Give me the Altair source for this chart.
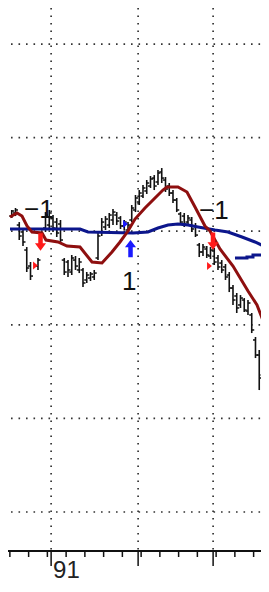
import altair as alt
import pandas as pd

# ---------------- data ----------------
# daily OHLC bars (day index, price units)
bar_day = [1, 2, 3, 4, 5, 6, 8, 10, 11, 12, 13, 14, 15, 16, 17, 18, 19, 20, 21, 22, 23,
           24, 25, 26, 27, 28, 29, 30, 31, 32, 33, 34, 35, 36, 37, 38, 39, 40, 41, 42, 43,
           44, 45, 46, 47, 48, 49, 50, 51, 52, 53, 54, 55, 56, 57, 58, 59, 60, 61, 62, 63,
           64, 65, 66, 67, 68, 69]
bar_high = [82.27, 82.48, 80.98, 80.34, 78.31, 76.71, 77.14, 82.05, 82.27, 81.73, 81.41, 81.2,
            77.14, 76.92, 77.46, 77.35, 77.14, 76.07, 75.64, 75.64, 75.86,
            79.81, 81.41, 81.62, 81.95, 82.37, 82.05, 81.62, 81.2, 80.98, 82.8, 83.87, 84.4,
            84.94, 85.47, 85.9, 86.0, 86.54, 86.75, 85.79, 85.15,
            84.4, 83.55, 82.05, 81.95, 81.73, 81.52, 80.88, 78.74, 78.63, 78.42, 78.31, 78.21,
            77.46, 76.92, 76.5, 75.64, 74.25, 73.4, 73.18, 72.86,
            72.65, 71.26, 68.7, 67.31, 66.24, 67.31]
bar_low = [81.41, 81.62, 79.06, 78.42, 75.64, 74.79, 75.86, 79.92, 80.13, 79.92, 79.38, 78.74,
           75.32, 75.11, 75.32, 75.86, 75.53, 74.04, 74.47, 74.68, 74.79,
           76.92, 79.49, 80.13, 80.34, 80.66, 80.66, 80.24, 80.13, 79.81, 80.98, 82.05, 82.8,
           83.55, 83.98, 84.62, 84.4, 84.94, 85.15, 84.19, 83.76,
           83.01, 82.05, 80.66, 80.45, 80.66, 79.92, 79.38, 77.24, 77.35, 77.14, 77.03, 76.39,
           75.86, 75.53, 74.79, 73.5, 72.12, 71.26, 71.8, 71.37,
           71.05, 69.12, 66.45, 63.03, 64.1, 65.92]
bar_open = [81.62, 81.95, 80.66, 79.92, 77.99, 76.28, 76.28, 80.34, 80.66, 81.41, 80.98, 80.77,
            76.92, 76.71, 75.64, 76.92, 75.86, 75.86, 74.79, 75.0, 75.11,
            77.14, 79.92, 80.45, 80.66, 81.2, 81.73, 81.41, 80.56, 80.13, 81.2, 82.27, 83.12,
            83.76, 84.3, 84.83, 85.68, 85.26, 86.33, 85.47, 84.83,
            84.08, 83.33, 81.84, 81.62, 80.98, 81.2, 80.56, 78.53, 77.78, 78.1, 77.35, 77.89,
            77.14, 76.6, 76.18, 75.32, 73.93, 73.08, 72.12, 72.65,
            71.47, 71.05, 68.38, 66.77, 64.64, 66.24]
bar_close = [82.16, 82.27, 79.49, 78.85, 76.07, 75.21, 76.92, 81.73, 81.95, 80.34, 79.81, 79.06,
             75.64, 75.86, 77.14, 76.28, 76.71, 74.47, 75.32, 75.43, 75.53,
             79.49, 80.98, 81.3, 81.73, 82.05, 81.09, 80.56, 80.98, 80.66, 82.48, 83.55, 84.08,
             84.62, 85.15, 85.58, 84.83, 86.22, 85.68, 84.51, 84.08,
             83.33, 82.27, 80.98, 80.77, 81.41, 80.24, 79.59, 77.78, 78.31, 77.46, 77.99, 76.71,
             76.18, 75.86, 75.11, 73.93, 72.65, 71.8, 72.86, 71.58,
             72.33, 69.45, 66.77, 64.32, 65.71, 66.99]

# dark red moving average
red_day = [0.53, 2.4, 3.73, 5.07, 6.4, 9.07, 10.13, 13.33, 15.73, 19.2, 22.4, 25.07, 27.73,
           29.87, 32.0, 33.87, 36.53, 39.2, 41.33, 42.4, 45.33, 47.73, 49.87, 52.53, 53.87,
           55.2, 56.53, 60.0, 64.0, 66.4, 69.07]
red_val = [81.52, 81.95, 81.62, 80.56, 79.92, 79.81, 79.06, 78.85, 78.42, 78.31, 76.71, 76.6,
           77.78, 78.85, 80.02, 81.3, 82.48, 83.55, 84.4, 84.72, 84.72, 84.19, 82.59, 80.56,
           80.02, 79.06, 78.1, 76.28, 73.61, 72.12, 69.34]

# navy moving average
navy_day = [0.53, 19.2, 21.33, 33.33, 37.33, 40.0, 42.67, 45.33, 48.0, 50.67, 55.2, 58.67,
            62.4, 65.87, 69.33]
navy_val = [80.24, 80.24, 79.92, 79.81, 79.92, 80.34, 80.66, 80.77, 80.66, 80.45, 80.13,
            79.92, 79.38, 78.85, 78.21]

# second navy segment at the right
navy2_day = [60.53, 63.73, 65.33, 69.33]
navy2_val = [77.14, 77.24, 77.46, 77.78]

# signals
sell_day = [8.67, 54.67]
sell_val = [78.85, 78.95]
buy_day = [32.67]
buy_val = [78.15]
red_mark_day = [7.33, 53.73]
red_mark_val = [76.34, 76.28]
blue_mark_day = [31.33]
blue_mark_val = [80.77]

sig_text = ["\u22121", "1", "\u22121"]
sig_text_day = [4.27, 30.4, 50.93]
sig_text_val = [81.41, 73.72, 81.3]

# grid / axis
grid_prices = [50, 60, 70, 80, 90, 100]
week_days = [0.5, 5.5, 10.5, 15.5, 20.5, 25.5, 30.5, 35.5, 40.5, 45.5, 50.5, 55.5, 60.5, 65.5]
month_days = [11.5, 34.7, 54.7]
year_label = ["91"]
year_label_day = [11.5]

# ---------------- chart ----------------
W, H = 253, 542
xs = alt.Scale(domain=[0, 67.47], nice=False, zero=False)
ys = alt.Scale(domain=[45.94, 103.85], nice=False, zero=False)


def X(f):
    return alt.X(f, type="quantitative", scale=xs, axis=None)


def Y(f):
    return alt.Y(f, type="quantitative", scale=ys, axis=None)


bars_df = pd.DataFrame({"day": bar_day, "high": bar_high, "low": bar_low,
                        "open": bar_open, "close": bar_close})
grid_df = pd.DataFrame({"p": grid_prices})
month_df = pd.DataFrame({"d": month_days})
week_df = pd.DataFrame({"d": week_days})
one_df = pd.DataFrame({"a": [0]})

dot = dict(strokeDash=[1.6, 5.9], strokeWidth=1.7, color="#333333")

hgrid = alt.Chart(grid_df).mark_rule(**dot).encode(y=Y("p"), x=alt.value(3), x2=alt.value(W))
vgrid = alt.Chart(month_df).mark_rule(**dot).encode(x=X("d"), y=alt.value(0), y2=alt.value(H))

axis_line = alt.Chart(one_df).mark_rule(color="#111111", strokeWidth=2).encode(
    x=alt.value(0), x2=alt.value(W), y=alt.value(H + 1))
wticks = alt.Chart(week_df).mark_rule(color="#111111", strokeWidth=1.5).encode(
    x=X("d"), y=alt.value(H + 1), y2=alt.value(H + 7))
mticks = alt.Chart(month_df).mark_rule(color="#111111", strokeWidth=1.5).encode(
    x=X("d"), y=alt.value(H + 1), y2=alt.value(H + 16))
ylabel = alt.Chart(pd.DataFrame({"d": year_label_day, "t": year_label})).mark_text(
    align="left", baseline="alphabetic", dx=2, fontSize=24, font="Liberation Sans",
    color="#222222").encode(x=X("d"), y=alt.value(H + 28), text="t:N")

bar_col = "#111111"
hl = alt.Chart(bars_df).mark_rule(color=bar_col, strokeWidth=1.6).encode(
    x=X("day"), y=Y("low"), y2="high")
op = alt.Chart(bars_df).mark_rule(color=bar_col, strokeWidth=1.5, xOffset=-2.5, x2Offset=0).encode(
    x=X("day"), x2="day", y=Y("open"))
cl = alt.Chart(bars_df).mark_rule(color=bar_col, strokeWidth=1.5, xOffset=0, x2Offset=2.5).encode(
    x=X("day"), x2="day", y=Y("close"))

navy = alt.Chart(pd.DataFrame({"d": navy_day, "v": navy_val})).mark_line(
    color="#0c168c", strokeWidth=3).encode(x=X("d"), y=Y("v"))
navy2 = alt.Chart(pd.DataFrame({"d": navy2_day, "v": navy2_val})).mark_line(
    color="#0c168c", strokeWidth=3, interpolate="step-after").encode(x=X("d"), y=Y("v"))
red = alt.Chart(pd.DataFrame({"d": red_day, "v": red_val})).mark_line(
    color="#8e0f0f", strokeWidth=3).encode(x=X("d"), y=Y("v"))

down_arrow = "M-0.26,-1L0.26,-1L0.26,0.15L0.64,0.15L0,1L-0.64,0.15L-0.26,0.15Z"
up_arrow = "M-0.26,1L0.26,1L0.26,-0.15L0.64,-0.15L0,-1L-0.64,-0.15L-0.26,-0.15Z"
right_tri = "M-0.6,-1L0.6,0L-0.6,1Z"

sells = alt.Chart(pd.DataFrame({"d": sell_day, "v": sell_val})).mark_point(
    shape=down_arrow, size=300, filled=True, opacity=1, color="#ff1a1a", strokeWidth=0).encode(
    x=X("d"), y=Y("v"))
buys = alt.Chart(pd.DataFrame({"d": buy_day, "v": buy_val})).mark_point(
    shape=up_arrow, size=300, filled=True, opacity=1, color="#1a1aff", strokeWidth=0).encode(
    x=X("d"), y=Y("v"))
rmarks = alt.Chart(pd.DataFrame({"d": red_mark_day, "v": red_mark_val})).mark_point(
    shape=right_tri, size=64, filled=True, opacity=1, color="#ff1a1a", strokeWidth=0).encode(
    x=X("d"), y=Y("v"))
bmarks = alt.Chart(pd.DataFrame({"d": blue_mark_day, "v": blue_mark_val})).mark_point(
    shape=right_tri, size=64, filled=True, opacity=1, color="#1a1aff", strokeWidth=0).encode(
    x=X("d"), y=Y("v"))

texts = alt.Chart(pd.DataFrame({"d": sig_text_day, "v": sig_text_val, "t": sig_text})).mark_text(
    align="left", baseline="alphabetic", fontSize=26, font="Liberation Sans", color="#111111").encode(
    x=X("d"), y=Y("v"), text="t:N")

chart = alt.layer(
    hgrid, vgrid, hl, op, cl, navy, navy2, red, sells, buys, rmarks, bmarks, texts,
    axis_line, wticks, mticks, ylabel
).properties(
    width=W, height=H,
    padding={"left": 0, "top": 0, "right": 0, "bottom": 34},
    autosize=alt.AutoSizeParams(type="none"),
    background="white",
).configure_view(strokeWidth=0)

chart.save("out.html", embed_options={"renderer": "svg", "actions": False})
